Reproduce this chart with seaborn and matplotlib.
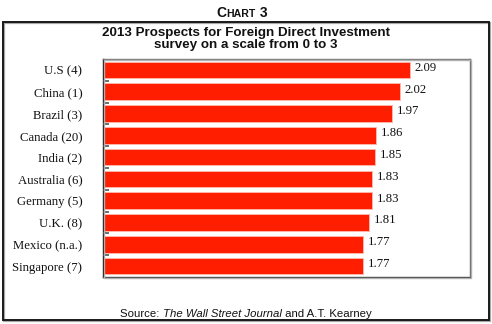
import matplotlib
matplotlib.use("Agg")
import matplotlib.pyplot as plt
from matplotlib.patches import Rectangle
import seaborn as sns
import pandas as pd

countries = ["U.S (4)", "China (1)", "Brazil (3)", "Canada (20)", "India (2)",
             "Australia (6)", "Germany (5)", "U.K. (8)", "Mexico (n.a.)", "Singapore (7)"]
scores = [2.09, 2.02, 1.97, 1.86, 1.85, 1.83, 1.83, 1.81, 1.77, 1.77]

title_line1 = "2013 Prospects for Foreign Direct Investment"
title_line2 = "survey on a scale from 0 to 3"

df = pd.DataFrame({"country": countries, "score": scores})

sns.set_theme(style="white")
plt.rcParams["font.family"] = ["Liberation Sans", "DejaVu Sans"]

W, H = 492, 324
fig = plt.figure(figsize=(W / 100, H / 100), dpi=100)
fig.patch.set_facecolor("white")

# outer frame with a soft shadow
fig.patches.append(Rectangle((4 / W, 1 - 321 / H), 486 / W, 298 / H,
                             transform=fig.transFigure, fill=False,
                             edgecolor="#a8a8a8", linewidth=1.6, zorder=0))
fig.patches.append(Rectangle((3 / W, 1 - 320 / H), 486 / W, 298 / H,
                             transform=fig.transFigure, fill=False,
                             edgecolor="#1a1a1a", linewidth=1.4, zorder=1))

ax_l, ax_t, ax_r, ax_b = 103, 59, 470, 277
ax = fig.add_axes([ax_l / W, 1 - ax_b / H, (ax_r - ax_l) / W, (ax_b - ax_t) / H])

# shadow behind the plotting area
fig.patches.append(Rectangle(((ax_l + 1.2) / W, 1 - (ax_b + 1.2) / H),
                             (ax_r - ax_l) / W, (ax_b - ax_t) / H,
                             transform=fig.transFigure, fill=False,
                             edgecolor="#b0b0b0", linewidth=1.0, zorder=0))

sns.barplot(data=df, x="score", y="country", orient="h", ax=ax,
            color="#ff1e00", saturation=1, width=0.76,
            edgecolor="#ffb4a8", linewidth=0.7)

ax.set_xlim(0, 2.5)
ax.set_ylim(9.5, -0.5)
ax.set_xlabel("")
ax.set_ylabel("")
ax.set_xticks([])

# category boundaries marked with short inward ticks
ax.set_yticks(range(len(countries)))
ax.set_yticklabels(countries, fontfamily="Liberation Serif", fontsize=9.2, color="#111111")
ax.tick_params(axis="y", which="major", length=0, pad=15)
ax.set_yticks([i + 0.5 for i in range(len(countries) - 1)], minor=True)
ax.tick_params(axis="y", which="minor", direction="in", length=4.5, width=1.1,
               color="#444444", left=True)
ax.set_axisbelow(False)

for sp in ax.spines.values():
    sp.set_visible(True)
    sp.set_linewidth(1.0)
ax.spines["left"].set_color("#111111")
ax.spines["bottom"].set_color("#444444")
ax.spines["top"].set_color("#777777")
ax.spines["right"].set_color("#666666")

for i, v in enumerate(scores):
    ax.annotate(f"{v:.2f}", xy=(v, i), xytext=(3.5, 1.5), textcoords="offset points",
                ha="left", va="center", fontfamily="Liberation Serif",
                fontsize=9.2, color="#111111")

# headings
fig.text(0.5, 1 - 33 / H, title_line1, ha="center", va="center",
         fontsize=9.6, fontweight="bold", color="#111111")
fig.text(0.5, 1 - 45 / H, title_line2, ha="center", va="center",
         fontsize=9.6, fontweight="bold", color="#111111")


def draw_runs(runs, y, center_x):
    """Draw consecutive text pieces on one baseline, centred as a group."""
    renderer = fig.canvas.get_renderer()
    texts = []
    for s, kw in runs:
        t = fig.text(0, y, s, ha="left", va="baseline", **kw)
        texts.append(t)
    widths = [t.get_window_extent(renderer).width for t in texts]
    total = sum(widths)
    x = center_x - total / 2
    for t, w in zip(texts, widths):
        t.set_x(x / W)
        x += w


# small-caps chart label
draw_runs([("C", dict(fontsize=10, fontweight="bold", color="#111111")),
           ("HART", dict(fontsize=7.6, fontweight="bold", color="#111111")),
           ("\u00a03", dict(fontsize=10, fontweight="bold", color="#111111"))],
          1 - 17 / H, 242)

# source line
draw_runs([("Source: ", dict(fontsize=8.2, color="#111111")),
           ("The Wall Street Journal", dict(fontsize=8.2, style="italic", color="#111111")),
           (" and A.T. Kearney", dict(fontsize=8.2, color="#111111"))],
          1 - 317 / H, 246)

fig.savefig("out.png", dpi=100, facecolor="white")
